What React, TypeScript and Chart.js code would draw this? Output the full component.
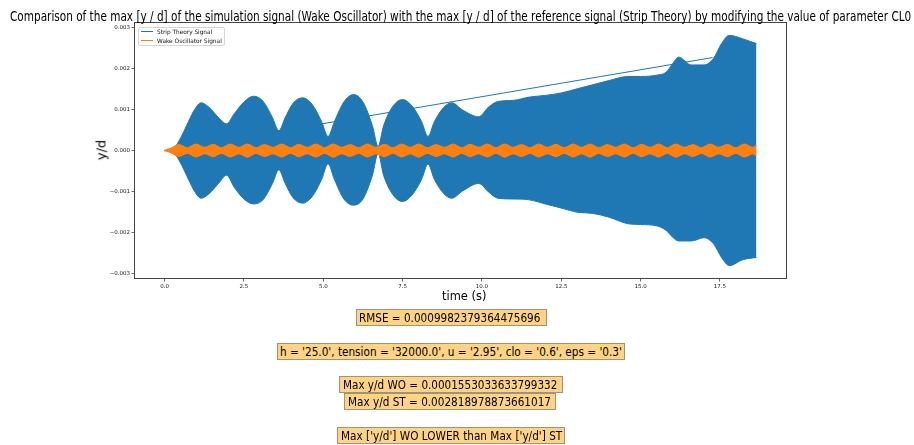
import React, { useEffect, useLayoutEffect, useRef } from "react";
import { Chart, registerables } from "chart.js";

Chart.register(...registerables);

// ---------------- data ----------------
const titleText =
  "Comparison of the max [y / d] of the simulation signal (Wake Oscillator) with the max [y / d] of the reference signal (Strip Theory) by modifying the value of parameter CL0";
const xAxisLabel = "time (s)";
const yAxisLabel = "y/d";
const seriesNames = ["Strip Theory Signal", "Wake Oscillator Signal"];

// Strip Theory signal envelope (upper / lower extent of the dense oscillation)
const stripTime = [
  0, 0.25, 0.5, 0.75, 0.95, 1.15, 1.4, 1.7, 1.95, 2.2, 2.5, 2.8, 3.1, 3.4, 3.6,
  3.8, 4.05, 4.35, 4.65, 4.95, 5.15, 5.35, 5.65, 5.95, 6.25, 6.55, 6.73, 6.9, 7.2,
  7.5, 7.8, 8.1, 8.3, 8.5, 8.8, 9.05, 9.4, 9.9, 10.2, 10.5, 11.0, 11.5, 12.0,
  12.5, 13.0, 13.5, 14.0, 14.6, 15.0, 15.5, 15.8, 16.0, 16.2, 16.6, 17.0, 17.3,
  17.55, 17.8, 18.2, 18.65,
];
const stripUpper = [
  0, 0.00003, 0.0003, 0.0007, 0.001, 0.00116, 0.00105, 0.0008, 0.00065, 0.0009,
  0.00118, 0.00132, 0.0012, 0.0008, 0.00048, 0.0008, 0.00115, 0.00128, 0.00112,
  0.0007, 0.00034, 0.0007, 0.00118, 0.00136, 0.00118, 0.0006, 0.0001, 0.0006,
  0.00108, 0.00124, 0.00108, 0.0007, 0.00034, 0.0007, 0.00105, 0.00116, 0.00098,
  0.00082, 0.00105, 0.00119, 0.00122, 0.0013, 0.00134, 0.0014, 0.0015, 0.0016,
  0.0017, 0.0018, 0.0018, 0.00183, 0.0019, 0.0021, 0.00227, 0.00208, 0.00208,
  0.00224, 0.0026, 0.0028, 0.00272, 0.0026,
];
const stripLower = [
  0, -0.00003, -0.0003, -0.0007, -0.001, -0.00116, -0.00105, -0.0008, -0.0006,
  -0.0009, -0.00118, -0.0013, -0.0012, -0.0008, -0.00047, -0.0008, -0.00115,
  -0.00128, -0.00112, -0.0007, -0.00032, -0.0007, -0.00118, -0.00133, -0.00118,
  -0.0006, -0.00007, -0.0006, -0.00108, -0.00124, -0.00108, -0.0007, -0.00033,
  -0.0007, -0.00105, -0.00116, -0.00098, -0.0008, -0.001, -0.00116, -0.00118,
  -0.0012, -0.0013, -0.0014, -0.0015, -0.00153, -0.00162, -0.00178, -0.0018,
  -0.00183, -0.00194, -0.0021, -0.0022, -0.0022, -0.00212, -0.00227, -0.0026,
  -0.0028, -0.00266, -0.0026,
];
// the straight segment of the Strip Theory trace
const stripLineTime = [0, 17.27];
const stripLineValue = [0, 0.00226];

// Wake Oscillator signal envelope
const wakeTime = [
  0, 0.2, 0.45, 0.72, 0.99, 1.26, 1.53, 1.8, 2.07, 2.34, 2.61, 2.88, 3.15, 3.42,
  3.69, 3.96, 4.23, 4.5, 4.77, 5.04, 5.31, 5.58, 5.85, 6.12, 6.39, 6.66, 6.93, 7.2,
  7.47, 7.74, 8.01, 8.28, 8.55, 8.82, 9.09, 9.36, 9.63, 9.9, 10.17, 10.44, 10.71,
  10.98, 11.25, 11.52, 11.79, 12.06, 12.33, 12.6, 12.87, 13.14, 13.41, 13.68,
  13.95, 14.22, 14.49, 14.76, 15.03, 15.3, 15.57, 15.84, 16.11, 16.38, 16.65,
  16.92, 17.19, 17.46, 17.73, 18.0, 18.27, 18.54, 18.65,
];
const wakeUpper = [
  0, 0.00005,
  0.00014, 0.00006, 0.00015, 0.00007, 0.000145, 0.00006, 0.00015, 0.00007,
  0.000155, 0.00006, 0.00014, 0.00007, 0.00015, 0.00006, 0.000145, 0.00007,
  0.00015, 0.00006, 0.000155, 0.00007, 0.00014, 0.00006, 0.00015, 0.00007,
  0.000145, 0.00006, 0.00015, 0.00007, 0.000155, 0.00006, 0.00014, 0.00007,
  0.00015, 0.00006, 0.000145, 0.00007, 0.00015, 0.00006, 0.000155, 0.00007,
  0.00014, 0.00006, 0.00015, 0.00007, 0.000145, 0.00006, 0.00015, 0.00007,
  0.000155, 0.00006, 0.00014, 0.00007, 0.00015, 0.00006, 0.000145, 0.00007,
  0.00015, 0.00006, 0.000155, 0.00007, 0.00014, 0.00006, 0.00015, 0.00007,
  0.000145, 0.00006, 0.00015, 0.00007,
  0.00012,
];
const wakeLower = [
  0, -0.00005,
  -0.00014, -0.00006, -0.00015, -0.00007, -0.000145, -0.00006, -0.00015, -0.00007,
  -0.000155, -0.00006, -0.00014, -0.00007, -0.00015, -0.00006, -0.000145, -0.00007,
  -0.00015, -0.00006, -0.000155, -0.00007, -0.00014, -0.00006, -0.00015, -0.00007,
  -0.000145, -0.00006, -0.00015, -0.00007, -0.000155, -0.00006, -0.00014, -0.00007,
  -0.00015, -0.00006, -0.000145, -0.00007, -0.00015, -0.00006, -0.000155, -0.00007,
  -0.00014, -0.00006, -0.00015, -0.00007, -0.000145, -0.00006, -0.00015, -0.00007,
  -0.000155, -0.00006, -0.00014, -0.00007, -0.00015, -0.00006, -0.000145, -0.00007,
  -0.00015, -0.00006, -0.000155, -0.00007, -0.00014, -0.00006, -0.00015, -0.00007,
  -0.000145, -0.00006, -0.00015, -0.00007,
  -0.00012,
];

const xTickValues = [0, 2.5, 5, 7.5, 10, 12.5, 15, 17.5];
const xTickLabels = ["0.0", "2.5", "5.0", "7.5", "10.0", "12.5", "15.0", "17.5"];
const yTickValues = [-0.003, -0.002, -0.001, 0, 0.001, 0.002, 0.003];
const yTickLabels = ["\u22120.003", "\u22120.002", "\u22120.001", "0.000", "0.001", "0.002", "0.003"];
const xLimits = [-0.9325, 19.5825];
const yLimits = [-0.0031, 0.0031];

const infoTexts = [
  "RMSE = 0.0009982379364475696",
  "h = '25.0', tension = '32000.0', u = '2.95', clo = '0.6', eps = '0.3'",
  "Max y/d WO = 0.0001553033633799332",
  "Max y/d ST = 0.002818978873661017",
  "Max ['y/d'] WO LOWER than Max ['y/d'] ST",
];

// ---------------- layout / style ----------------
const BLUE = "#1f77b4";
const ORANGE = "#ff7f0e";
const FONT = '"DejaVu Sans", sans-serif';
// box geometry: [boxLeft, boxTop, boxWidth, boxHeight, textLeftInBox, textWidth]
const infoBoxes = [
  [356, 309, 191, 17, 2, 181],
  [277, 343, 348, 17, 2, 342],
  [339, 376, 224, 17, 3, 214],
  [344, 393, 212, 17, 3, 203],
  [337, 427, 228, 17, 3, 221],
];

function FitText(props: {
  text: string;
  left: number;
  top: number;
  width: number;
  size: number;
  color?: string;
}) {
  const ref = useRef<HTMLSpanElement>(null);
  useLayoutEffect(() => {
    const el = ref.current;
    if (!el) return;
    el.style.transform = "none";
    const w = el.offsetWidth;
    if (w > 0) el.style.transform = `scaleX(${props.width / w})`;
  });
  return (
    <span
      ref={ref}
      style={{
        position: "absolute",
        left: props.left,
        top: props.top,
        fontSize: props.size,
        lineHeight: `${Math.round(props.size * 1.2)}px`,
        whiteSpace: "pre",
        transformOrigin: "0 0",
        display: "block",
        color: props.color || "#000",
        fontFamily: FONT,
      }}
    >
      {props.text}
    </span>
  );
}

const pts = (xs: number[], ys: number[]) => xs.map((x, i) => ({ x, y: ys[i] }));

const framePlugin = {
  id: "frame",
  afterDatasetsDraw(chart: any) {
    const { ctx, chartArea } = chart;
    const { left, top, right, bottom } = chartArea;
    ctx.save();
    ctx.strokeStyle = "#444";
    ctx.lineWidth = 1;
    ctx.strokeRect(Math.round(left) - 0.5, Math.round(top) - 0.5, Math.round(right - left) + 1, Math.round(bottom - top) + 1);
    ctx.restore();
  },
};

export default function App() {
  const canvasRef = useRef<HTMLCanvasElement>(null);

  useEffect(() => {
    const canvas = canvasRef.current;
    if (!canvas) return;
    const chart = new Chart(canvas, {
      type: "line",
      data: {
        datasets: [
          {
            label: seriesNames[1],
            data: pts(wakeTime, wakeUpper),
            borderColor: ORANGE,
            backgroundColor: ORANGE,
            borderWidth: 1.5,
            pointRadius: 0,
            fill: "+1",
            order: 0,
            cubicInterpolationMode: "monotone",
          },
          {
            label: seriesNames[1] + " (lower)",
            data: pts(wakeTime, wakeLower),
            borderColor: ORANGE,
            backgroundColor: ORANGE,
            borderWidth: 1.5,
            pointRadius: 0,
            fill: false,
            order: 0,
            cubicInterpolationMode: "monotone",
          },
          {
            label: seriesNames[0],
            data: pts(stripTime, stripUpper),
            borderColor: BLUE,
            backgroundColor: BLUE,
            borderWidth: 1,
            pointRadius: 0,
            fill: "+1",
            order: 1,
            cubicInterpolationMode: "monotone",
          },
          {
            label: seriesNames[0] + " (lower)",
            data: pts(stripTime, stripLower),
            borderColor: BLUE,
            backgroundColor: BLUE,
            borderWidth: 1,
            pointRadius: 0,
            fill: false,
            order: 1,
            cubicInterpolationMode: "monotone",
          },
          {
            label: seriesNames[0] + " (segment)",
            data: pts(stripLineTime, stripLineValue),
            borderColor: BLUE,
            borderWidth: 1,
            pointRadius: 0,
            fill: false,
            order: 2,
          },
        ],
      },
      options: {
        animation: false,
        responsive: false,
        devicePixelRatio: 1,
        events: [],
        layout: { padding: { left: 0, right: 128, top: 23, bottom: 0 } },
        plugins: {
          legend: { display: false },
          title: { display: false },
          tooltip: { enabled: false },
        },
        scales: {
          x: {
            type: "linear",
            min: xLimits[0],
            max: xLimits[1],
            afterBuildTicks: (scale: any) => {
              scale.ticks = xTickValues.map((v) => ({ value: v }));
            },
            afterFit: (scale: any) => {
              scale.height = 445 - 278;
            },
            ticks: {
              autoSkip: false,
              maxRotation: 0,
              padding: 2,
              color: "#222",
              font: { family: FONT, size: 5.5 },
              callback: (value: any) => {
                const i = xTickValues.findIndex((v) => Math.abs(v - Number(value)) < 1e-9);
                return i >= 0 ? xTickLabels[i] : "";
              },
            },
            grid: {
              display: true,
              drawOnChartArea: false,
              drawTicks: true,
              tickLength: 3.5,
              color: "#444",
              lineWidth: 0.8,
            },
            border: { display: false },
          },
          y: {
            type: "linear",
            min: yLimits[0],
            max: yLimits[1],
            afterBuildTicks: (scale: any) => {
              scale.ticks = yTickValues.map((v) => ({ value: v }));
            },
            afterFit: (scale: any) => {
              scale.width = 135;
            },
            ticks: {
              autoSkip: false,
              padding: 1.5,
              color: "#222",
              font: { family: FONT, size: 5.5 },
              callback: (value: any) => {
                const i = yTickValues.findIndex((v) => Math.abs(v - Number(value)) < 1e-12);
                return i >= 0 ? yTickLabels[i] : "";
              },
            },
            grid: {
              display: true,
              drawOnChartArea: false,
              drawTicks: true,
              tickLength: 3.5,
              color: "#444",
              lineWidth: 0.8,
            },
            border: { display: false },
          },
        },
      },
      plugins: [framePlugin],
    } as any);
    return () => chart.destroy();
  }, []);

  return (
    <div
      style={{
        position: "fixed",
        left: 0,
        top: 0,
        width: 914,
        height: 445,
        background: "#fff",
        overflow: "hidden",
        fontFamily: FONT,
      }}
    >
      <canvas
        ref={canvasRef}
        width={914}
        height={445}
        style={{ position: "absolute", left: 0, top: 0, width: 914, height: 445 }}
      />
      {/* title */}
      <FitText text={titleText} left={10} top={8} width={901} size={13.5} />
      {/* legend */}
      <div
        style={{
          position: "absolute",
          left: 138,
          top: 27,
          width: 87,
          height: 19,
          border: "1px solid #d6d6d6",
          borderRadius: 2,
          boxSizing: "border-box",
          background: "rgba(255,255,255,0.8)",
        }}
      />
      <div style={{ position: "absolute", left: 141, top: 30.5, width: 12, height: 1.5, background: BLUE }} />
      <FitText text={seriesNames[0]} left={157} top={27.5} width={55} size={6} color="#111" />
      <div style={{ position: "absolute", left: 141, top: 39.5, width: 12, height: 1.5, background: ORANGE }} />
      <FitText text={seriesNames[1]} left={157} top={36.5} width={65} size={6} color="#111" />
      {/* axis labels */}
      <div
        style={{
          position: "absolute",
          left: 101,
          top: 150,
          transform: "translate(-50%, -50%) rotate(-90deg)",
          fontSize: 13,
          whiteSpace: "nowrap",
          fontFamily: FONT,
        }}
      >
        {yAxisLabel}
      </div>
      <FitText text={xAxisLabel} left={442} top={288} width={44} size={13} />
      {/* info boxes */}
      {infoTexts.map((t, i) => {
        const [bl, bt, bw, bh, tl, tw] = infoBoxes[i];
        return (
          <div
            key={i}
            style={{
              position: "absolute",
              left: bl,
              top: bt,
              width: bw,
              height: bh,
              background: "#fed383",
              border: "1px solid #a39273",
              boxSizing: "border-box",
            }}
          >
            <FitText text={t} left={tl} top={(bh - 2 - 13) / 2} width={tw} size={11.5} />
          </div>
        );
      })}
    </div>
  );
}
